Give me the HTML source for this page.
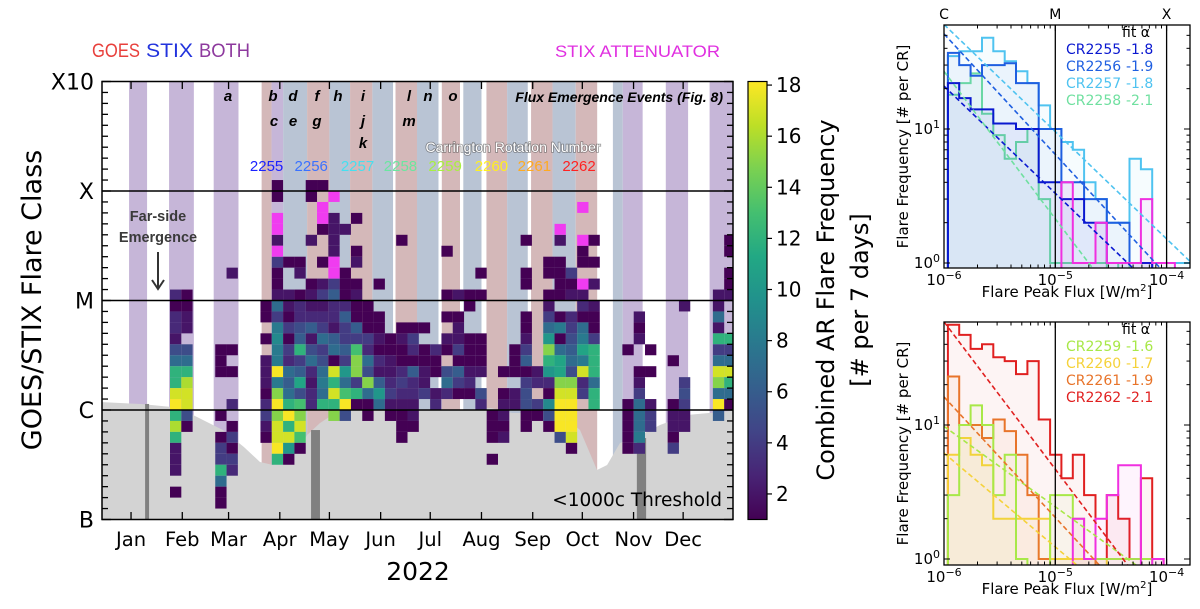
<!DOCTYPE html>
<html><head><meta charset="utf-8">
<style>
body{margin:0;background:#fff}
svg{display:block}
.dj{font-family:"DejaVu Sans","Liberation Sans",sans-serif}
.lb{font-family:"Liberation Sans",sans-serif}
</style></head>
<body>
<svg id="fig" width="1200" height="609" viewBox="0 0 1200 609" xmlns="http://www.w3.org/2000/svg">
<defs>
<clipPath id="mainClip"><rect x="102" y="81.5" width="631" height="438"/></clipPath>
<clipPath id="topClip"><rect x="944" y="25" width="246" height="243"/></clipPath>
<clipPath id="botClip"><rect x="944" y="322" width="246" height="243"/></clipPath>
<linearGradient id="viridis" x1="0" y1="1" x2="0" y2="0">
<stop offset="0" stop-color="#440154"/><stop offset="0.1" stop-color="#482475"/><stop offset="0.2" stop-color="#414487"/><stop offset="0.3" stop-color="#355f8d"/><stop offset="0.4" stop-color="#2a788e"/><stop offset="0.5" stop-color="#21918c"/><stop offset="0.6" stop-color="#22a884"/><stop offset="0.7" stop-color="#44bf70"/><stop offset="0.8" stop-color="#7ad151"/><stop offset="0.9" stop-color="#bddf26"/><stop offset="1" stop-color="#fde725"/>
</linearGradient>
</defs>

<g id="legendTop" class="lb">
<text x="92" y="57" font-size="19" fill="#e8403c" textLength="48" lengthAdjust="spacingAndGlyphs">GOES</text>
<text x="146" y="57" font-size="19" fill="#2233dd" textLength="47" lengthAdjust="spacingAndGlyphs">STIX</text>
<text x="199" y="57" font-size="19" fill="#8e3a9e" textLength="51" lengthAdjust="spacingAndGlyphs">BOTH</text>
<text x="555" y="57" font-size="17" fill="#e030e0" textLength="165" lengthAdjust="spacingAndGlyphs">STIX ATTENUATOR</text>
</g>

<g id="mainPlot">
<g id="mainInner" clip-path="url(#mainClip)"></g>
<g id="mainAxes"></g>
</g>
<g id="cbar"></g>
<g id="topPanel"></g>
<g id="botPanel"></g>

<text class="dj" transform="translate(41,300) rotate(-90)" text-anchor="middle" font-size="27" fill="#000">GOES/STIX Flare Class</text>
<text class="dj" x="418" y="580" text-anchor="middle" font-size="25" fill="#000">2022</text>
<text class="dj" transform="translate(834,300) rotate(-90)" text-anchor="middle" font-size="24" fill="#000">Combined AR Flare Frequency</text>
<text class="dj" transform="translate(868,300) rotate(-90)" text-anchor="middle" font-size="24" fill="#000">[# per 7 days]</text>
</svg>

<script>
// ---------------- main heatmap data ----------------
const monthLabels=["Jan","Feb","Mar","Apr","May","Jun","Jul","Aug","Sep","Oct","Nov","Dec"];
const monthTickDays=[14,45,73,104,134,165,195,226,257,287,318,348];
const classLabels=["B","C","M","X","X10"];
const classLogFlux=[-7,-6,-5,-4,-3];
const stripeStart=[12.8,37,64,93,99,106,120.5,134,146.5,160,174,187,202,215,229,241.5,256,269,283,305.5,311.5,337.5,364];
const stripeEnd=[23.7,52,79,99,106,120.5,134,146.5,160,172.5,187,200,213,226,241.5,254,269,283,296,311.5,323.5,351,378];
const stripeType=["both","both","both","goes","both","stix","goes","stix","goes","stix","goes","stix","goes","stix","goes","stix","goes","stix","goes","stix","both","both","both"];
// [weekIndex, [[fluxBin, count], ...]]
const weekCells=[
[5,[[20,3],[19,1],[18,3],[17,3],[16,2],[15,5],[14,7],[13,12],[12,12],[11,17],[10,18],[9,12],[8,16],[7,12],[6,2],[5,2],[4,2],[2,1]]],
[6,[[20,1],[19,1],[18,2],[17,2],[15,5],[14,7],[13,12],[12,16],[11,17],[10,17],[9,5],[8,1]]],
[9,[[15,1],[14,1],[13,1],[9,1],[7,1],[6,4],[5,4],[4,12],[3,7],[2,1],[1,1]]],
[10,[[22,2],[15,1],[13,1],[10,3],[8,1],[7,4],[6,1],[5,4],[4,3]]],
[13,[[19,1],[18,1],[16,1],[14,2],[13,2],[12,2],[11,1],[10,3],[9,4],[8,2],[7,1]]],
[14,[[30,1],[29,1],[25,2],[23,4],[22,1],[21,1],[20,2],[19,7],[18,4],[17,8],[16,9],[15,8],[14,8],[13,18],[12,8],[11,15],[10,18],[9,15],[8,17],[7,17],[6,18],[5,12]]],
[15,[[23,1],[20,2],[19,2],[18,1],[17,4],[16,1],[15,4],[14,3],[13,7],[12,6],[11,7],[10,12],[9,18],[8,12],[7,17],[6,10],[5,1]]],
[16,[[23,1],[22,2],[20,1],[19,3],[18,3],[17,5],[16,6],[15,12],[14,4],[13,6],[12,11],[11,5],[10,13],[9,15],[8,17],[7,13],[6,1]]],
[17,[[30,1],[29,1],[25,2],[21,1],[20,2],[19,2],[18,3],[17,6],[16,2],[15,5],[14,7],[13,3],[12,2],[11,3],[10,3]]],
[18,[[30,1],[26,1],[23,1],[21,2],[20,4],[19,2],[18,3],[17,4],[16,7],[15,4],[14,5],[13,7],[12,8],[11,7],[10,12]]],
[19,[[27,2],[26,2],[25,2],[24,2],[21,4],[20,6],[19,3],[18,3],[17,2],[16,6],[15,7],[14,1],[13,17],[12,12],[11,17],[10,12],[9,15]]],
[20,[[26,2],[22,1],[21,1],[20,1],[19,3],[18,6],[17,4],[16,4],[15,6],[14,4],[13,10],[12,7],[11,13],[10,18],[9,5]]],
[21,[[27,1],[24,1],[23,2],[21,1],[20,2],[19,1],[18,1],[17,6],[16,4],[15,13],[14,15],[13,15],[12,4],[11,12],[10,1]]],
[22,[[19,1],[18,1],[17,1],[16,4],[15,3],[14,7],[13,5],[12,15],[11,7],[10,1],[9,1]]],
[23,[[21,1],[18,1],[17,1],[16,2],[15,1],[14,3],[13,2],[12,6],[11,10],[10,7]]],
[24,[[16,1],[15,1],[14,2],[13,2],[12,3],[11,4],[10,2],[9,1]]],
[25,[[25,1],[17,1],[16,2],[15,1],[14,1],[13,3],[12,4],[11,3],[10,2],[9,1],[8,1],[7,1]]],
[26,[[17,1],[16,4],[15,3],[14,1],[13,6],[12,3],[11,3],[10,2],[9,2],[8,1]]],
[27,[[17,1],[15,1],[14,1],[13,2],[12,2],[11,4]]],
[28,[[15,3],[14,1],[13,1],[11,2],[10,3]]],
[29,[[24,1],[20,1],[18,1],[16,2],[15,1],[13,5],[12,7],[11,3]]],
[30,[[20,2],[18,1],[17,2],[16,2],[15,4],[14,1],[13,6],[12,4],[11,1]]],
[31,[[20,1],[19,1],[16,1],[15,1],[14,1],[13,2],[12,3],[11,1]]],
[32,[[22,1],[20,1],[16,1],[15,1],[14,1],[13,2],[11,5],[10,3]]],
[33,[[9,1],[8,1],[7,1],[5,1]]],
[34,[[13,1],[11,1],[10,2],[9,2],[8,1],[7,2]]],
[35,[[15,1],[14,1],[13,1],[11,2],[10,2]]],
[36,[[25,1],[22,1],[21,1],[18,1],[17,1],[16,2],[15,4],[14,6],[13,1],[12,4],[11,5],[10,5],[9,1],[8,1]]],
[37,[[13,2],[12,3],[10,4],[9,1]]],
[38,[[23,1],[22,1],[20,1],[19,2],[18,4],[17,7],[16,10],[15,15],[14,12],[13,10],[12,3],[11,1],[10,9],[9,5],[8,1]]],
[39,[[25,2],[23,1],[22,1],[21,1],[20,1],[18,1],[17,8],[16,1],[15,7],[14,11],[13,11],[12,15],[11,17],[10,18],[9,18],[8,18],[7,5]]],
[40,[[22,4],[21,1],[20,2],[18,3],[17,4],[16,5],[15,6],[14,7],[13,5],[12,15],[11,17],[10,18],[9,18],[8,18],[7,17],[6,1]]],
[41,[[24,1],[23,1],[20,2],[19,3],[18,1],[17,7],[16,8],[15,11],[14,8],[13,17],[12,3],[11,4]]],
[42,[[25,1],[23,1],[21,2],[19,2],[18,1],[17,1],[16,4],[15,12],[14,12],[13,12],[12,7],[11,12],[10,12]]],
[45,[[15,1],[10,1],[9,1],[8,1],[7,1],[6,1]]],
[46,[[18,2],[17,1],[16,2],[13,1],[12,2],[11,4],[10,7],[9,7],[8,7],[7,8],[6,3]]],
[47,[[15,1],[13,1],[10,2],[9,4],[8,4]]],
[49,[[14,1],[10,1],[9,2],[8,2],[7,1],[6,4]]],
[50,[[19,2],[12,4],[11,5],[10,4],[9,2],[8,2]]],
[53,[[20,2],[19,2],[18,7],[17,2],[16,12],[15,4],[14,7],[13,17],[12,15],[11,7],[10,18],[9,6]]],
[54,[[25,1],[24,1],[22,1],[21,1],[20,2],[16,12],[15,4],[14,7],[13,17],[12,12],[11,7],[10,1]]]
];
const attenuatorCells=[[14,27],[14,26],[14,24],[18,28],[18,27],[19,29],[19,23],[19,22],[39,26],[41,28],[41,25],[41,21]];
const thresholdDays=[-5,20,44.8,51.5,69.6,82.3,92,99.9,114.4,120.5,128.3,140.4,214.2,231.7,244.5,273.5,285.6,295.9,302,309.8,326.1,334,350.3,370.3,382.4];
const thresholdLogFlux=[-5.927,-5.945,-5.982,-6.046,-6.183,-6.338,-6.475,-6.502,-6.393,-6.228,-6.119,-6.0,-6.0,-5.982,-6.027,-6.027,-6.183,-6.548,-6.502,-6.301,-6.2,-6.137,-6.046,-6.018,-6.0];
const outageStart=[22.5,122.9,320];
const outageEnd=[24.9,128.3,325.6];
const outageTop=[-5.945,-6.183,-6.256];
const cbarTicks=[2,4,6,8,10,12,14,16,18];
const crNumbers=["2255","2256","2257","2258","2259","2260","2261","2262"];
const crColors=["#1a22ff","#3a72ff","#44e0f0","#6ae6a0","#a8f040","#fff020","#ffaa20","#ff2222"];
const crLabelDays=[96,123,151,177,204,232,258,285];

// ---------------- histogram data ----------------
const binStartLog=-5.965, binWidthLog=0.102;
const topSeriesNames=["CR2255","CR2256","CR2257","CR2258"];
const topSeriesColors=["#0a18d0","#1f5fe0","#4fc3f0","#70e0a0"];
const topAlpha=["-1.8","-1.9","-1.8","-2.1"];
const topFitSlope=[-0.8,-0.9,-0.8,-1.1];
const topFitLogAmp=[1.32,1.71,1.78,1.43];
const cr2255=[22,17,14,14,11,11,10,10,4,4,3,3,2,2,1,1,1,1];
const cr2256=[37,30,25,30,30,31,22,22,10,10,4,4,3,3,2,2,1,1];
const cr2257=[35,38,38,48,38,32,27,22,15,10,8,7,4,3,2,2,6,5,1,1,1,1];
const cr2258=[18,22,26,13,9,6,8,10,3,1,1,1,1,1,0,1];
const attTop=[0,0,0,0,0,0,0,0,0,0,4,1,1,2,1,1,1,3,1,1];
const botSeriesNames=["CR2259","CR2260","CR2261","CR2262"];
const botSeriesColors=["#a8e848","#f5d23a","#e8742a","#e02020"];
const botAlpha=["-1.6","-1.7","-1.9","-2.1"];
const botFitSlope=[-0.6,-0.7,-0.9,-1.1];
const botFitLogAmp=[0.99,0.79,1.21,1.77];
const cr2259=[3,10,14,10,3,6,1,0,0,3,3,2,1,1,1,1,1,1];
const cr2260=[6,8,6,5,2,2,2,2,2,1,1,1,1,1];
const cr2261=[23,10,10,8,11,9,6,3,1,1,1,1,1];
const cr2262=[56,47,37,40,32,30,24,30,11,6,4,6,3,1,3,2,1,4,1];
const attBot=[0,0,0,0,0,0,0,0,0,0,0,2,1,2,3,5,5,0,1];

// ---------------- helpers ----------------
const NS="http://www.w3.org/2000/svg";
function mk(tag,attrs,parent){const e=document.createElementNS(NS,tag);for(const k in attrs)e.setAttribute(k,attrs[k]);parent.appendChild(e);return e;}
const vir=["#440154","#482475","#414487","#355f8d","#2a788e","#21918c","#22a884","#44bf70","#7ad151","#bddf26","#fde725"];
function hex(c){return [parseInt(c.slice(1,3),16),parseInt(c.slice(3,5),16),parseInt(c.slice(5,7),16)];}
function viridis(t){t=Math.max(0,Math.min(1,t));const p=t*10,i=Math.min(9,Math.floor(p)),f=p-i;const a=hex(vir[i]),b=hex(vir[i+1]);return "rgb("+a.map((v,j)=>Math.round(v+(b[j]-v)*f)).join(",")+")";}
const VMIN=1,VMAX=18.14;

// main scales
const xDay=d=>107.9+1.653*d;
const yLog=l=>519.5-(l+7)*109.5;
const colX=k=>113.45+11.31*k;
const COLW=11.31;
const rowY=r=>yLog(-7+(r+1)*0.1);
const ROWH=10.95;

const inner=document.getElementById('mainInner');
const axes=document.getElementById('mainAxes');
const stripeFill={both:"#c6b6d8",stix:"#b9c4d4",goes:"#d4b8b9"};
for(let i=0;i<stripeStart.length;i++){
  const s=mk('rect',{x:xDay(stripeStart[i]),y:81.5,width:xDay(stripeEnd[i])-xDay(stripeStart[i]),height:438,fill:stripeFill[stripeType[i]]},inner);
  
  
}
let tp="M"+xDay(thresholdDays[0])+","+yLog(thresholdLogFlux[0]);
for(let i=1;i<thresholdDays.length;i++)tp+=" L"+xDay(thresholdDays[i]).toFixed(1)+","+yLog(thresholdLogFlux[i]).toFixed(1);
tp+=" L"+xDay(thresholdDays[thresholdDays.length-1])+",525 L"+xDay(thresholdDays[0])+",525 Z";
const thr=mk('path',{d:tp,fill:"#d3d3d3"},inner);


for(let i=0;i<outageStart.length;i++){
  const b=mk('rect',{x:xDay(outageStart[i]),y:yLog(outageTop[i]),width:xDay(outageEnd[i])-xDay(outageStart[i]),height:519.5-yLog(outageTop[i]),fill:"#808080"},inner);
  
  
}
weekCells.forEach(([k,bins])=>{
  bins.forEach(([r,v])=>{
    const c=mk('rect',{x:colX(k).toFixed(2),y:rowY(r).toFixed(2),width:COLW,height:ROWH,fill:viridis((v-VMIN)/(VMAX-VMIN))},inner);
    
    
  });
});
attenuatorCells.forEach(([k,r])=>{
  const c=mk('rect',{x:colX(k).toFixed(2),y:rowY(r).toFixed(2),width:COLW,height:ROWH,fill:"#f03cf0"},inner);
  
  
});
[-6,-5,-4].forEach(l=>{
  const ln=mk('line',{x1:102,x2:733,y1:yLog(l),y2:yLog(l),stroke:"#000","stroke-width":1.6},inner);
  
  
});
const annLetters=[["a",228,101],["b",273,101],["d",293,101],["f",317,101],["h",338,101],["i",363,101],["l",409,101],["n",428,101],["o",453,101],["c",274,126],["e",293,126],["g",317,126],["j",363,126],["m",409,126],["k",363,148]];
annLetters.forEach(([t,x,y])=>{
  const e=mk('text',{x:x,y:y,"text-anchor":"middle","font-size":15,"font-weight":"bold","font-style":"italic",fill:"#000","class":"lb"},inner);
  e.textContent=t;
  
  
});
const fe=mk('text',{x:723,y:102,"text-anchor":"end","font-size":14,"font-weight":"bold","font-style":"italic",fill:"#000","class":"lb"},inner);
fe.textContent="Flux Emergence Events (Fig. 8)";


const crt=mk('text',{x:513,y:152,"text-anchor":"middle","font-size":14,fill:"#fff",stroke:"#555","stroke-width":1.6,"paint-order":"stroke","stroke-opacity":0.6,"class":"lb"},inner);
crt.textContent="Carrington Rotation Number";


crNumbers.forEach((n,i)=>{
  const e=mk('text',{x:xDay(crLabelDays[i]),y:171,"text-anchor":"middle","font-size":15,fill:crColors[i],"class":"lb"},inner);
  e.textContent=n;
  
  
});
[["Far-side",221],["Emergence",242]].forEach(([t,y])=>{
  const e=mk('text',{x:158,y:y,"text-anchor":"middle","font-size":14.5,"font-weight":"bold",fill:"#3a3a3a","class":"lb"},inner);
  e.textContent=t;
  
  
});
const arr=mk('path',{d:"M158,252 L158,288 M152,280 L158,289 L164,280",stroke:"#333","stroke-width":2,fill:"none"},inner);


const th=mk('text',{x:722,y:506,"text-anchor":"end","font-size":18.5,fill:"#000","class":"dj"},inner);
th.textContent="<1000c Threshold";



const fr=mk('rect',{x:102,y:81.5,width:631,height:438,fill:"none",stroke:"#000","stroke-width":1.5},axes);


for(let i=0;i<=40;i++){
  const y=yLog(-7+i*0.1), L=(i%10===0)?9:6;
  const t1=mk('line',{x1:102,x2:102+L,y1:y,y2:y,stroke:"#000","stroke-width":1.3},axes);
  
  
  const t2=mk('line',{x1:733,x2:733-L,y1:y,y2:y,stroke:"#000","stroke-width":1.3},axes);
  
  
}
monthTickDays.forEach((d,i)=>{
  const x=xDay(d);
  const a=mk('line',{x1:x,x2:x,y1:519.5,y2:512,stroke:"#000","stroke-width":1.3},axes);
  
  
  const b=mk('line',{x1:x,x2:x,y1:81.5,y2:89,stroke:"#000","stroke-width":1.3},axes);
  
  
  const t=mk('text',{x:x,y:546,"text-anchor":"middle","font-size":19.5,fill:"#000","class":"dj"},axes);
  t.textContent=monthLabels[i];
  
  
});
classLabels.forEach((c,i)=>{
  const t=mk('text',{x:94,y:yLog(classLogFlux[i])+8,"text-anchor":"end","font-size":22,fill:"#000","class":"dj"},axes);
  t.textContent=c;
  
  
});

const cb=document.getElementById('cbar');
const cbr=mk('rect',{x:748,y:81.5,width:19,height:438,fill:"url(#viridis)",stroke:"#000","stroke-width":1.2},cb);


const yC=v=>519.5-(v-VMIN)/(VMAX-VMIN)*438;
cbarTicks.forEach(v=>{
  const l=mk('line',{x1:767,x2:772,y1:yC(v),y2:yC(v),stroke:"#000","stroke-width":1.2},cb);
  
  
  const t=mk('text',{x:776,y:yC(v)+7,"font-size":20,fill:"#000","class":"dj"},cb);
  t.textContent=v;
  
  
});

// ---------------- histogram panels ----------------
const xR=l=>944+(l+6)*111.3;
function drawPanel(g,clipId,top,bottom,y0,series,colors,names,alphas,slopes,amps,att,labelPrefixY){
  const yV=lv=>y0-lv*134;
  const cg=mk('g',{"clip-path":"url(#"+clipId+")"},g);
  function hist(vals,color,name,fillOp){
    let d="M"+xR(binStartLog).toFixed(1)+","+(bottom+3);
    vals.forEach((v,i)=>{
      const x0=xR(binStartLog+i*binWidthLog),x1=xR(binStartLog+(i+1)*binWidthLog);
      const y=v>0?yV(Math.log10(v)):bottom+3;
      d+=" L"+x0.toFixed(1)+","+y.toFixed(1)+" L"+x1.toFixed(1)+","+y.toFixed(1);
    });
    d+=" L"+xR(binStartLog+vals.length*binWidthLog).toFixed(1)+","+(bottom+3);
    const f=mk('path',{d:d+" Z",fill:color,"fill-opacity":fillOp,stroke:"none"},cg);
    
    
    const p=mk('path',{d:d,fill:"none",stroke:color,"stroke-width":2},cg);
    
    
  }
  for(let s=series.length-1;s>=0;s--)hist(series[s],colors[s],names[s].toLowerCase(),0.05);
  hist(att,"#f030e0","attenuator",0.05);
  for(let s=0;s<series.length;s++){
    const lEnd=-6+amps[s]/(-slopes[s])+0.1;
    const l=mk('line',{x1:xR(-6),y1:yV(amps[s]),x2:xR(lEnd),y2:yV(amps[s]+slopes[s]*(lEnd+6)),stroke:colors[s],"stroke-width":1.6,"stroke-dasharray":"5,3"},cg);
    
    
  }
  [-5,-4].forEach(lx=>{
    const v=mk('line',{x1:xR(lx),x2:xR(lx),y1:top,y2:bottom,stroke:"#000","stroke-width":1.3},g);
    
    
  });
  const fr=mk('rect',{x:944,y:top,width:246,height:bottom-top,fill:"none",stroke:"#000","stroke-width":1.3},g);
  
  
  for(let dec=-6;dec<=-4;dec++){for(let m=1;m<10;m++){
    const l=dec+Math.log10(m); if(l>-3.79)continue;
    const x=xR(l),L=m===1?6:3.5;
    const a=mk('line',{x1:x,x2:x,y1:bottom,y2:bottom-L,stroke:"#000","stroke-width":1},g);
    
    
    const b=mk('line',{x1:x,x2:x,y1:top,y2:top+L,stroke:"#000","stroke-width":1},g);
    
    
  }
    const t=mk('text',{x:xR(dec),y:bottom+17,"text-anchor":"middle","font-size":15,fill:"#000","class":"dj"},g);
    t.innerHTML="10<tspan dy='-6' font-size='11'>"+(dec===-6?"−6":dec===-5?"−5":"−4")+"</tspan>";
    
    
  }
  for(let dec=0;dec<=1;dec++){for(let m=1;m<10;m++){
    const lv=dec+Math.log10(m); const y=yV(lv); if(y<top||y>bottom)continue;
    const L=m===1?6:3.5;
    const a=mk('line',{x1:944,x2:944+L,y1:y,y2:y,stroke:"#000","stroke-width":1},g);
    
    
    const b=mk('line',{x1:1190,x2:1190-L,y1:y,y2:y,stroke:"#000","stroke-width":1},g);
    
    
  }
    const t=mk('text',{x:940,y:yV(dec)+5,"text-anchor":"end","font-size":15,fill:"#000","class":"dj"},g);
    t.innerHTML="10<tspan dy='-6' font-size='11'>"+dec+"</tspan>";
    
    
  }
  const yl=mk('text',{transform:"translate(908,"+((top+bottom)/2)+") rotate(-90)","text-anchor":"middle","font-size":15,fill:"#000","class":"dj"},g);
  yl.textContent="Flare Frequency [# per CR]";
  
  
  const xl=mk('text',{x:1067,y:bottom+29,"text-anchor":"middle","font-size":15,fill:"#000","class":"dj"},g);
  xl.innerHTML="Flare Peak Flux [W/m<tspan dy='-6' font-size='10'>2</tspan><tspan dy='6'>]</tspan>";
  
  
  const fa=mk('text',{x:1150,y:labelPrefixY,"text-anchor":"end","font-size":14,fill:"#000","class":"dj"},g);
  fa.textContent="fit α";
  
  
  names.forEach((n,i)=>{
    const a=mk('text',{x:1066,y:labelPrefixY+17*(i+1),"font-size":14,fill:colors[i],"class":"dj"},g);
    a.textContent=n;
    
    
    const b=mk('text',{x:1126,y:labelPrefixY+17*(i+1),"font-size":14,fill:colors[i],"class":"dj"},g);
    b.textContent=alphas[i];
    
    
  });
}
const tg=document.getElementById('topPanel');
drawPanel(tg,"topClip",25,268,263,[cr2255,cr2256,cr2257,cr2258],topSeriesColors,topSeriesNames,topAlpha,topFitSlope,topFitLogAmp,attTop,37);
const bg=document.getElementById('botPanel');
drawPanel(bg,"botClip",322,565,559,[cr2259,cr2260,cr2261,cr2262],botSeriesColors,botSeriesNames,botAlpha,botFitSlope,botFitLogAmp,attBot,334);
[["C",-6],["M",-5],["X",-4]].forEach(([c,l])=>{
  const t=mk('text',{x:xR(l),y:19,"text-anchor":"middle","font-size":14,fill:"#000","class":"dj"},tg);
  t.textContent=c;
  
  
});
</script>
</body></html>
